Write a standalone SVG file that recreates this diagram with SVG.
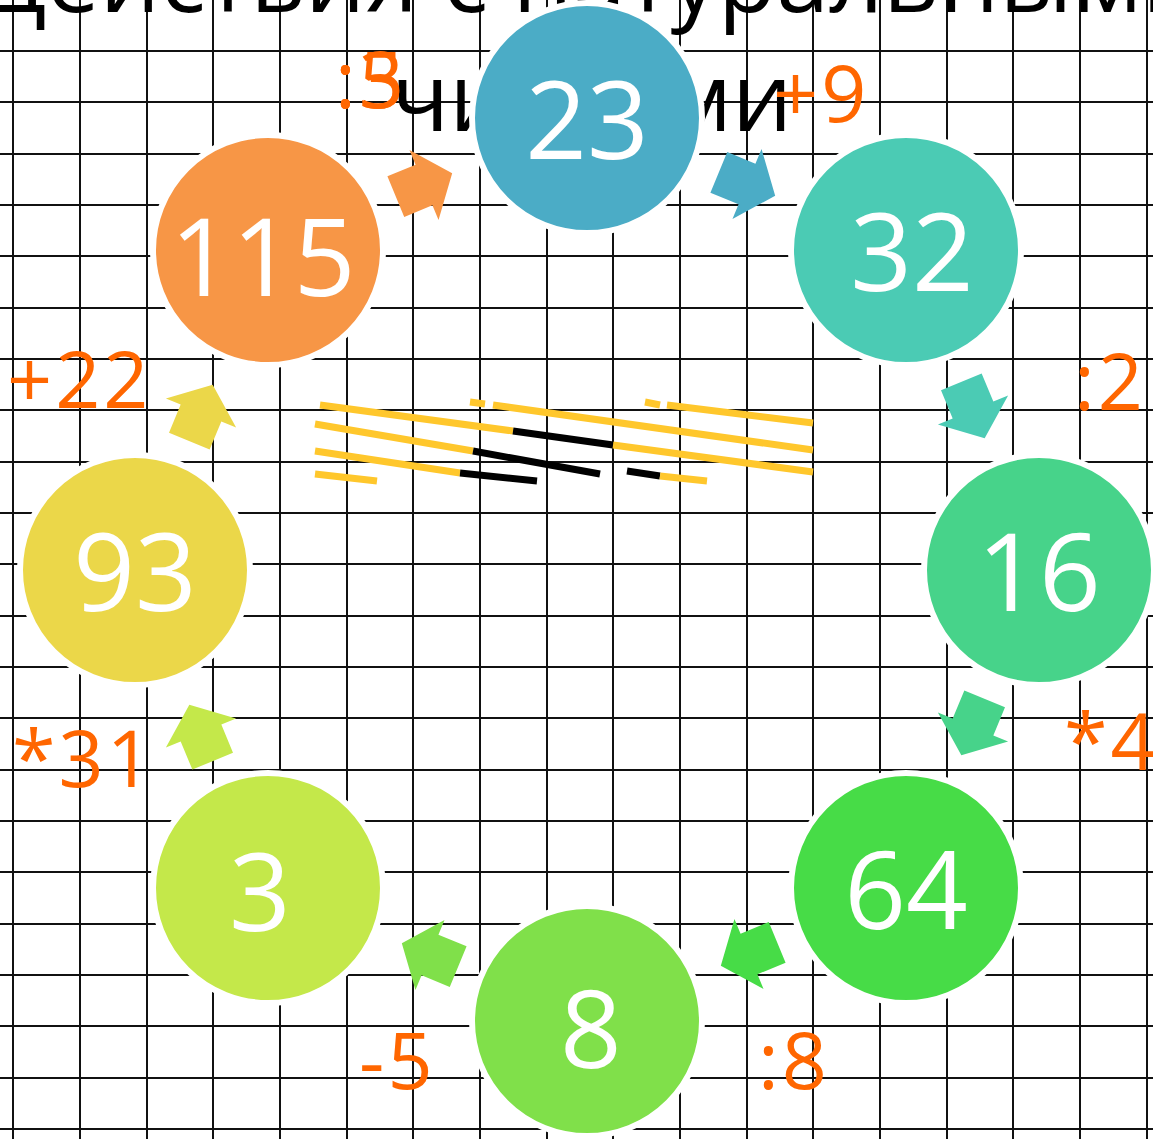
<svg xmlns="http://www.w3.org/2000/svg" xmlns:xlink="http://www.w3.org/1999/xlink" width="1153" height="1139" viewBox="0 0 1153 1139">
<style>
.grid line{stroke:#111;stroke-width:2}
.title{font-family:"Open Sans","Noto Sans",sans-serif;font-size:95px;fill:#000;text-anchor:middle}
.num{font-family:"Open Sans","Noto Sans",sans-serif;font-size:108px;fill:#fff;text-anchor:middle}
.op{font-family:"Open Sans","Noto Sans",sans-serif;font-size:79px;fill:#FF6600;letter-spacing:3px}
.node circle{stroke:#fff;stroke-width:6}
.y{stroke:#FFC72C;stroke-width:7;fill:none}
.k{stroke:#000;stroke-width:7;fill:none}
</style>
<defs>
<path id="arr" d="M-30.5,-22 L0,-22 L0,-38 L30.5,0 L0,38 L0,22 L-30.5,22 Z"/>
</defs>
<rect width="1153" height="1139" fill="#fff"/>
<g class="grid">
<line x1="13" y1="0" x2="13" y2="1139"/><line x1="80" y1="0" x2="80" y2="1139"/><line x1="147" y1="0" x2="147" y2="1139"/><line x1="213" y1="0" x2="213" y2="1139"/><line x1="280" y1="0" x2="280" y2="1139"/><line x1="347" y1="0" x2="347" y2="1139"/><line x1="413" y1="0" x2="413" y2="1139"/><line x1="480" y1="0" x2="480" y2="1139"/><line x1="547" y1="0" x2="547" y2="1139"/><line x1="613" y1="0" x2="613" y2="1139"/><line x1="680" y1="0" x2="680" y2="1139"/><line x1="747" y1="0" x2="747" y2="1139"/><line x1="813" y1="0" x2="813" y2="1139"/><line x1="880" y1="0" x2="880" y2="1139"/><line x1="947" y1="0" x2="947" y2="1139"/><line x1="1013" y1="0" x2="1013" y2="1139"/><line x1="1080" y1="0" x2="1080" y2="1139"/><line x1="1147" y1="0" x2="1147" y2="1139"/>
<line x1="0" y1="51" x2="1153" y2="51"/><line x1="0" y1="102" x2="1153" y2="102"/><line x1="0" y1="154" x2="1153" y2="154"/><line x1="0" y1="205" x2="1153" y2="205"/><line x1="0" y1="256" x2="1153" y2="256"/><line x1="0" y1="308" x2="1153" y2="308"/><line x1="0" y1="359" x2="1153" y2="359"/><line x1="0" y1="410" x2="1153" y2="410"/><line x1="0" y1="462" x2="1153" y2="462"/><line x1="0" y1="513" x2="1153" y2="513"/><line x1="0" y1="564" x2="1153" y2="564"/><line x1="0" y1="616" x2="1153" y2="616"/><line x1="0" y1="667" x2="1153" y2="667"/><line x1="0" y1="718" x2="1153" y2="718"/><line x1="0" y1="770" x2="1153" y2="770"/><line x1="0" y1="821" x2="1153" y2="821"/><line x1="0" y1="872" x2="1153" y2="872"/><line x1="0" y1="924" x2="1153" y2="924"/><line x1="0" y1="975" x2="1153" y2="975"/><line x1="0" y1="1026" x2="1153" y2="1026"/><line x1="0" y1="1078" x2="1153" y2="1078"/><line x1="0" y1="1129" x2="1153" y2="1129"/>
</g>
<g id="title">
<text class="title" x="592" y="12">Действия с натуральными</text>
<text class="title" x="592" y="131">числами</text>
</g>
<g id="scribble">
<line class="y" x1="320" y1="405" x2="513" y2="431"/><line class="k" x1="513" y1="431" x2="613" y2="445"/><line class="y" x1="613" y1="445" x2="813" y2="472"/>
<line class="y" x1="470" y1="402" x2="485" y2="404"/><line class="y" x1="493" y1="405" x2="813" y2="450"/>
<line class="y" x1="645" y1="402" x2="660" y2="405"/><line class="y" x1="667" y1="405" x2="813" y2="423"/>
<line class="y" x1="315" y1="424" x2="473" y2="451"/><line class="k" x1="473" y1="451" x2="600" y2="474"/><line class="k" x1="627" y1="471" x2="660" y2="476"/><line class="y" x1="660" y1="476" x2="707" y2="481"/>
<line class="y" x1="315" y1="451" x2="460" y2="473"/><line class="k" x1="460" y1="473" x2="537" y2="481"/>
<line class="y" x1="315" y1="474" x2="377" y2="481"/>
</g>
<g id="connectors">
<use xlink:href="#arr" href="#arr" transform="translate(747,184) rotate(22.5)" fill="#4BACC6"/>
<use xlink:href="#arr" href="#arr" transform="translate(973,410) rotate(67.5)" fill="#4BCBB4"/>
<use xlink:href="#arr" href="#arr" transform="translate(973,727) rotate(112.5)" fill="#47D38A"/>
<use xlink:href="#arr" href="#arr" transform="translate(749,954) rotate(157.5)" fill="#47DC47"/>
<use xlink:href="#arr" href="#arr" transform="translate(430,955) rotate(202.5)" fill="#80E04A"/>
<use xlink:href="#arr" href="#arr" transform="translate(201,733) rotate(247.5)" fill="#C4E84A"/>
<use xlink:href="#arr" href="#arr" transform="translate(201,413) rotate(292.5)" fill="#EBD749"/>
<use xlink:href="#arr" href="#arr" transform="translate(424,185) rotate(337.5)" fill="#F79646"/>
</g>
<g id="n23" class="node"><circle cx="587" cy="118" r="115" fill="#4BACC6"/><text class="num" x="587" y="159">23</text></g>
<g id="n32" class="node"><circle cx="906" cy="250" r="115" fill="#4BCBB4"/><text class="num" x="912" y="291">32</text></g>
<g id="n16" class="node"><circle cx="1039" cy="570" r="115" fill="#47D38A"/><text class="num" x="1039" y="611">16</text></g>
<g id="n64" class="node"><circle cx="906" cy="888" r="115" fill="#47DC47"/><text class="num" x="906" y="929">64</text></g>
<g id="n8" class="node"><circle cx="587" cy="1021" r="115" fill="#80E04A"/><text class="num" x="591" y="1068">8</text></g>
<g id="n3" class="node"><circle cx="268" cy="888" r="115" fill="#C4E84A"/><text class="num" x="260" y="931">3</text></g>
<g id="n93" class="node"><circle cx="135" cy="570" r="115" fill="#EBD749"/><text class="num" x="135" y="611">93</text></g>
<g id="n115" class="node"><circle cx="268" cy="250" r="115" fill="#F79646"/><text class="num" x="263" y="296">115</text></g>
<g id="labels">
<text class="op" x="335" y="108">:5</text>
<text class="op" x="335" y="108">:3</text>
<text class="op" x="773" y="122">+9</text>
<text class="op" x="1074" y="410">:2</text>
<text class="op" x="1064" y="770">*4</text>
<text class="op" x="758" y="1089">:8</text>
<text class="op" x="359" y="1089">-5</text>
<text class="op" x="12" y="787">*31</text>
<text class="op" x="7" y="408">+22</text>
</g>
</svg>
